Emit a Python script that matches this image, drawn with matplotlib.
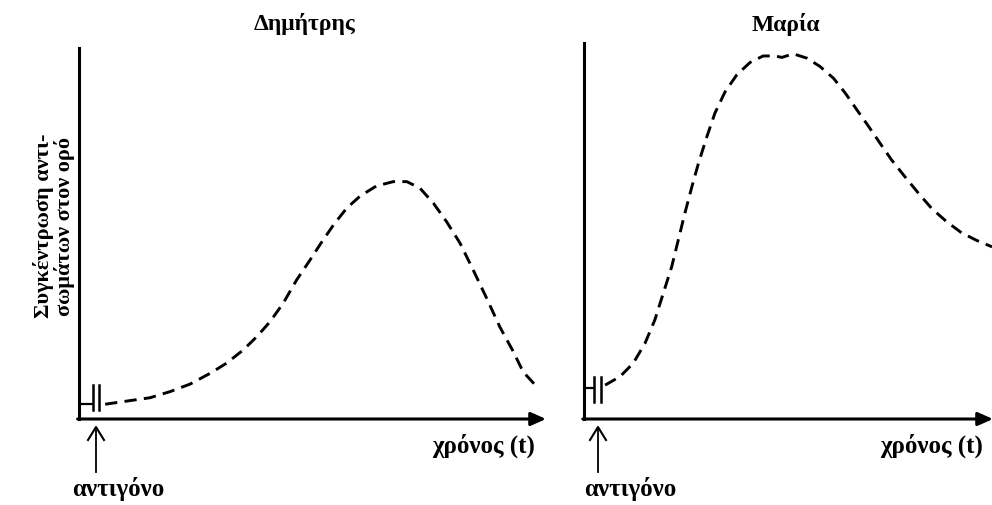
"""
Antibody concentration in serum after antigen exposure: Δημήτρης vs Μαρία.
"""

import matplotlib
matplotlib.use('Agg')
import matplotlib.pyplot as plt

plt.rcParams['font.family'] = ['Liberation Serif', 'DejaVu Serif']

# Δημήτρης (left panel): time, concentration (arbitrary units)
dimitris_t = [0.56, 1.09, 1.52, 1.95, 2.38, 2.81, 3.16, 3.52, 3.81, 4.09, 4.37,
              4.66, 4.95, 5.16, 5.45, 5.73, 6.02, 6.37, 6.73, 7.02, 7.30, 7.59,
              7.87, 8.16, 8.44, 8.73, 9.01, 9.30, 9.51, 9.80]
dimitris_c = [0.41, 0.51, 0.59, 0.76, 0.97, 1.27, 1.55, 1.92, 2.29, 2.70, 3.21,
              3.86, 4.42, 4.84, 5.39, 5.85, 6.19, 6.47, 6.59, 6.59, 6.41, 5.99,
              5.48, 4.88, 4.14, 3.35, 2.56, 1.87, 1.31, 0.90]

# Μαρία (right panel)
maria_t = [0.45, 0.77, 1.05, 1.30, 1.51, 1.69, 1.87, 2.01, 2.15, 2.30, 2.44,
           2.62, 2.79, 3.01, 3.26, 3.54, 3.82, 4.07, 4.22, 4.46, 4.75, 5.03,
           5.32, 5.57, 5.82, 6.07, 6.31, 6.56, 6.84, 7.13, 7.41, 7.73, 8.05,
           8.37, 8.70]
maria_c = [0.94, 1.18, 1.55, 2.10, 2.75, 3.49, 4.23, 4.97, 5.71, 6.45, 7.10,
           7.84, 8.49, 9.09, 9.56, 9.90, 10.08, 10.08, 10.04, 10.14, 10.02, 9.79,
           9.46, 9.05, 8.58, 8.12, 7.66, 7.19, 6.73, 6.27, 5.85, 5.48, 5.17,
           4.96, 4.78]

titles = ['Δημήτρης', 'Μαρία']
xlabel = 'χρόνος (t)'
antigen_label = 'αντιγόνο'
ylabel = 'Συγκέντρωση αντι-\nσωμάτων στον ορό'

W, H = 992, 505
fig = plt.figure(figsize=(W / 100, H / 100), dpi=100)


def make_panel(rect, xmax, ymax, t, c, bar_x, bar_y, level):
    ax = fig.add_axes(rect)
    ax.set_xlim(0, xmax)
    ax.set_ylim(0, ymax)
    for s in ['top', 'right', 'bottom']:
        ax.spines[s].set_visible(False)
    ax.spines['left'].set_linewidth(2.2)
    ax.set_xticks([])
    ax.set_yticks([])
    ax.patch.set_alpha(0)

    # x axis with arrow head
    ax.annotate('', xy=(1.0, 0), xytext=(-0.003, 0), xycoords='axes fraction',
                arrowprops=dict(arrowstyle='-|>,head_length=0.9,head_width=0.4',
                                lw=2.2, color='black', shrinkA=0, shrinkB=0),
                annotation_clip=False)

    # baseline marker "-||"
    ax.plot([0, bar_x[0]], [level, level], color='black', lw=1.6)
    for bx in bar_x:
        ax.plot([bx, bx], bar_y, color='black', lw=1.8)

    ax.plot(t, c, color='black', lw=2.1, dashes=(4.2, 2.5), solid_joinstyle='round')
    return ax


make_panel([79 / W, 86 / H, 467 / W, 371 / H], 10.0, 10.3,
           dimitris_t, dimitris_c,
           bar_x=[0.30, 0.43], bar_y=[0.25, 0.94], level=0.42)
make_panel([584 / W, 86 / H, 409 / W, 376 / H], 8.72, 10.44,
           maria_t, maria_c,
           bar_x=[0.21, 0.36], bar_y=[0.47, 1.17], level=0.86)

# titles
for x, title in zip([305, 786], titles):
    fig.text(x / W, 1 - 24 / H, title, ha='center', va='center',
             fontsize=17, fontweight='bold')

# x labels
for x in [535, 983]:
    fig.text(x / W, 1 - 446 / H, xlabel, ha='right', va='center',
             fontsize=18, fontweight='bold')

# antigen arrows
for xa, xt in [(96, 118), (598, 630)]:
    fig.text(xt / W, 1 - 489 / H, antigen_label, ha='center', va='center',
             fontsize=18, fontweight='bold')
    fig.add_artist(plt.Line2D([xa / W, xa / W], [1 - 472 / H, 1 - 428 / H],
                              color='black', lw=1.3))
    fig.add_artist(plt.Line2D([xa / W - 8 / W, xa / W, xa / W + 8 / W],
                              [1 - 440 / H, 1 - 427 / H, 1 - 440 / H],
                              color='black', lw=1.5))

fig.text(54 / W, 1 - 226 / H, ylabel, rotation=90, ha='center', va='center',
         fontsize=16, fontweight='bold', linespacing=1.0)

fig.savefig('out.png', dpi=100)
